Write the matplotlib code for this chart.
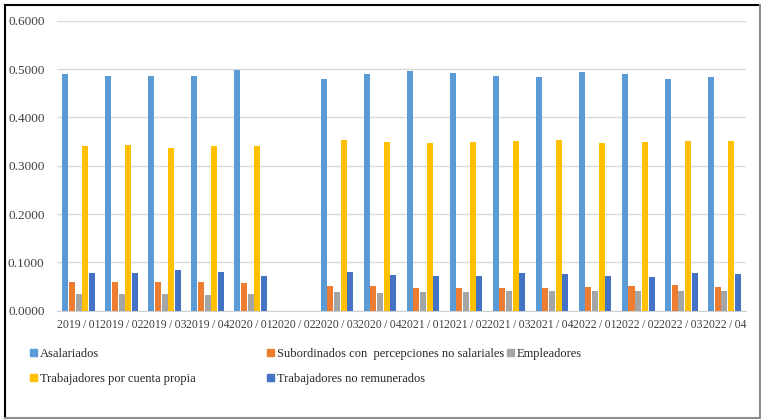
import matplotlib.pyplot as plt
import numpy as np
from matplotlib.lines import Line2D
from matplotlib.patches import Patch

periods = ["2019/01", "2019/02", "2019/03", "2019/04", "2020/01", "2020/02",
           "2020/03", "2020/04", "2021/01", "2021/02", "2021/03", "2021/04",
           "2022/01", "2022/02", "2022/03", "2022/04"]

# 2020/02 has no survey data
asalariados = [0.489, 0.486, 0.486, 0.486, 0.497, np.nan, 0.480, 0.490,
               0.496, 0.492, 0.486, 0.484, 0.494, 0.489, 0.479, 0.483]
subordinados = [0.059, 0.059, 0.059, 0.060, 0.057, np.nan, 0.052, 0.052,
                0.048, 0.048, 0.046, 0.046, 0.050, 0.051, 0.053, 0.050]
empleadores = [0.035, 0.035, 0.035, 0.033, 0.035, np.nan, 0.038, 0.036,
               0.038, 0.039, 0.041, 0.041, 0.041, 0.041, 0.041, 0.041]
cuenta_propia = [0.340, 0.343, 0.337, 0.340, 0.340, np.nan, 0.353, 0.350,
                 0.348, 0.350, 0.351, 0.353, 0.346, 0.350, 0.351, 0.351]
no_remunerados = [0.079, 0.079, 0.084, 0.080, 0.072, np.nan, 0.080, 0.073,
                  0.072, 0.072, 0.077, 0.076, 0.072, 0.070, 0.079, 0.076]

series_names = ["Asalariados", "Subordinados con  percepciones no salariales", "Empleadores",
                "Trabajadores por cuenta propia", "Trabajadores no remunerados"]
colors = ["#5B9BD5", "#ED7D31", "#A5A5A5", "#FFC000", "#4472C4"]

plt.rcParams["font.family"] = ["Liberation Serif", "DejaVu Serif"]

fig = plt.figure(figsize=(7.61, 4.20), dpi=100)
ax = fig.add_axes([0.075, 0.2602, 0.905, 0.6905])

x = np.arange(len(periods))
width = 0.14
step = 0.155
all_series = [asalariados, subordinados, empleadores, cuenta_propia, no_remunerados]
for i, (vals, color) in enumerate(zip(all_series, colors)):
    ax.bar(x + (i - 2) * step, vals, width, color=color, zorder=3)

ax.set_xlim(-0.5, len(periods) - 0.5)
ax.set_ylim(0, 0.6)
ax.set_yticks(np.arange(0, 0.61, 0.1))
ax.set_yticklabels([f"{v:.4f}" for v in np.arange(0, 0.61, 0.1)], fontsize=9.5, color="#404040")
ax.set_xticks(x)
# thin spaces around the slash keep neighbouring labels from running together
ax.set_xticklabels([p.replace("/", "\u2009/\u2009") for p in periods],
                   fontsize=8.5, color="#404040")
ax.tick_params(length=0)
ax.tick_params(axis="y", pad=9)
ax.tick_params(axis="x", pad=6)
ax.grid(axis="y", color="#d9d9d9", linewidth=1.0, zorder=0)
for side in ["top", "right", "left"]:
    ax.spines[side].set_visible(False)
ax.spines["bottom"].set_color("#d0d0d0")

# legend entries laid out one by one (handle left edge, center y in pixels)
positions = [(30, 354), (267, 354), (507, 354), (30, 379), (267, 379)]
W, H = 761, 420
for name, color, (px, py) in zip(series_names, colors, positions):
    fig.legend(handles=[Patch(color=color)], labels=[name], loc="center left",
               bbox_to_anchor=(px / W, 1 - py / H), frameon=False, fontsize=9,
               handlelength=0.55, handleheight=0.55, handletextpad=0.25,
               borderpad=0, borderaxespad=0, labelcolor="#262626")

# outer frame: dark on top/left, grey on bottom/right
fx0, fx1 = 4.5 / W, 759.5 / W
fy0, fy1 = 1 - 417.5 / H, 1 - 4.5 / H
fig.add_artist(Line2D([fx0, fx1], [fy1, fy1], color="black", lw=1.5, transform=fig.transFigure))
fig.add_artist(Line2D([fx0, fx0], [fy0, fy1], color="black", lw=1.5, transform=fig.transFigure))
fig.add_artist(Line2D([fx1, fx1], [fy0, fy1], color="#8c8c8c", lw=1.5, transform=fig.transFigure))
fig.add_artist(Line2D([fx0, fx1], [fy0, fy0], color="#8c8c8c", lw=1.5, transform=fig.transFigure))

fig.savefig("out.png", dpi=100)
